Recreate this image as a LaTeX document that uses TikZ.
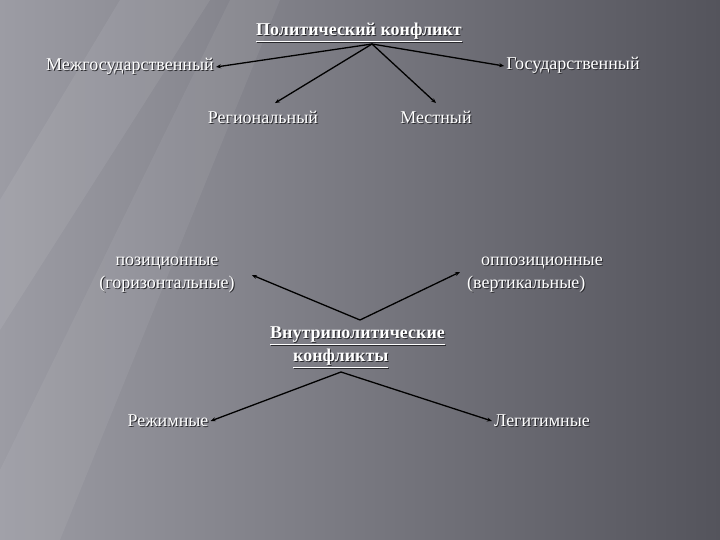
\documentclass[tikz,border=0pt]{standalone}
\usepackage{fontspec}
\setmainfont{Liberation Serif}
\newfontfamily\slidefont{Liberation Serif}
\usepackage{xcolor}
\usetikzlibrary{arrows.meta}

\definecolor{bgLight}{RGB}{156,156,164}
\definecolor{bgDark}{RGB}{84,84,92}
\definecolor{txtShadow}{RGB}{40,40,44}

% white text with a dark drop shadow
\newcommand{\shd}[1]{\rlap{\color{txtShadow}\raisebox{-1pt}{\hspace{1pt}#1}}#1}

\tikzset{
  lbl/.style={inner sep=2pt, text=white, font=\slidefont\fontsize{18}{23}\selectfont},
  head/.style={lbl, font=\slidefont\fontsize{18}{23}\selectfont\bfseries},
  branch/.style={draw=black, line width=1.3pt, -{Stealth[length=5pt,width=4pt]}}
}

\begin{document}
\begin{tikzpicture}[x=1pt,y=1pt,yscale=-1,xscale=1]
        % background
        \useasboundingbox (0,0) rectangle (720,540);
        \shade[left color=bgLight, right color=bgDark] (0,0) rectangle (720,540);
        \fill[white, opacity=0.07] (120,0) -- (210,0) -- (0,330) -- (0,200) -- cycle;
        \fill[white, opacity=0.06] (230,0) -- (280,0) -- (60,540) -- (0,540) -- (0,470) -- cycle;

        % Text Node
        \node[head] (title) at (359,33) {\shd{\underline{Политический конфликт}}};
        % Text Node
        \node[lbl] (inter) at (130,67) {\shd{Межгосударственный}};
        % Text Node
        \node[lbl] (state) at (573,66) {\shd{Государственный}};
        % Text Node
        \node[lbl] (reg) at (263,118) {\shd{Региональный}};
        % Text Node
        \node[lbl] (loc) at (436,118) {\shd{Местный}};
        % Text Node
        \node[lbl, align=center] (posn) at (167,275) {\shd{позиционные}\\\shd{(горизонтальные)}};
        % Text Node
        \node[lbl, align=left, anchor=west] (oppn) at (465,275) {\hspace*{14pt}\shd{оппозиционные}\\\shd{(вертикальные)}};
        % Text Node
        \node[head, align=left, anchor=west] (inner) at (268,348) {\shd{\underline{Внутриполитические}}\\\hspace*{23pt}\shd{\underline{конфликты}}};
        % Text Node
        \node[lbl] (regime) at (168,421) {\shd{Режимные}};
        % Text Node
        \node[lbl] (legit) at (542,421) {\shd{Легитимные}};

        % forks
        \coordinate (fork1) at (372,44);
        \coordinate (fork2) at (360,320);
        \coordinate (fork3) at (341,372);

        \draw[branch] (fork1) -- (inter.east);
        \draw[branch] (fork1) -- (state.west);
        \draw[branch] (fork1) -- ([xshift=12pt,yshift=-6pt]reg.north);
        \draw[branch] (fork1) -- ([yshift=-6pt]loc.north);

        \draw[branch] (fork2) -- ([xshift=15pt]posn.east);
        \draw[branch] (fork2) -- ([xshift=-5pt,yshift=-3pt]oppn.west);

        \draw[branch] (fork3) -- (regime.east);
        \draw[branch] (fork3) -- (legit.west);
\end{tikzpicture}
\end{document}
